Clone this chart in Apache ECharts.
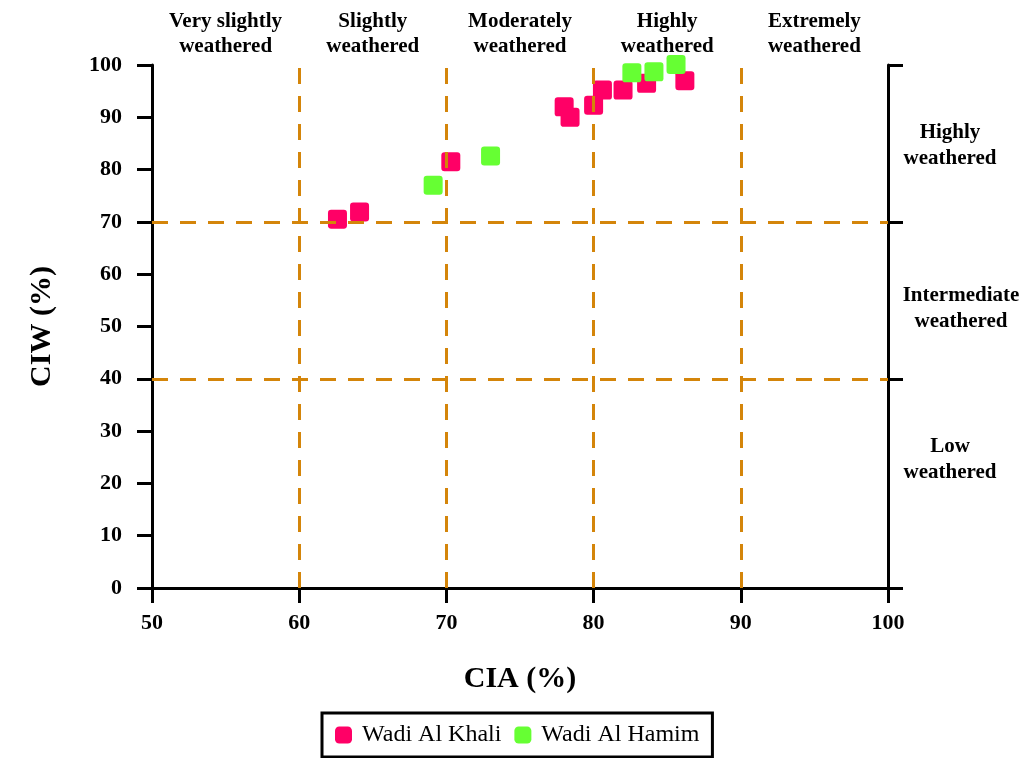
<!DOCTYPE html>
<html>
<head>
<meta charset="utf-8">
<script src="https://cdn.jsdelivr.net/npm/echarts@6/dist/echarts.min.js"></script>
<style>
html,body{margin:0;padding:0;background:#fff;}
#chart{width:1027px;height:758px;}
</style>
</head>
<body>
<div id="chart"></div>
<script>
// ---- data ----
const khaliCIA = [62.6, 64.1, 70.3, 78.0, 78.4, 80.0, 80.6, 82.0, 83.6, 86.2];
const khaliCIW = [70.5, 71.9, 81.5, 92.0, 90.0, 92.3, 95.2, 95.2, 96.5, 97.0];
const hamimCIA = [69.1, 73.0, 82.6, 84.1, 85.6];
const hamimCIW = [77.0, 82.6, 98.5, 98.7, 100.1];
const seriesNames = ['Wadi Al Khali', 'Wadi Al Hamim'];
const ciaZones = ['Very slightly\nweathered', 'Slightly\nweathered', 'Moderately\nweathered', 'Highly\nweathered', 'Extremely\nweathered'];
const ciaBounds = [60, 70, 80, 90];
const ciwBounds = [40, 70];
const ciwTicksRight = [0, 40, 70, 100];
const ciwZoneLabelPos = [24.5, 53.5, 84.5];
const ciwZones = ['Low\nweathered', 'Intermediate\nweathered', 'Highly\nweathered'];

const FONT = '"Liberation Serif", "Times New Roman", serif';
const zip = (a, b) => a.map((v, i) => [v, b[i]]);

const chart = echarts.init(document.getElementById('chart'), null, {renderer: 'canvas'});
const axisLine = {show: true, lineStyle: {color: '#000', width: 3}};
const tick = (extra) => Object.assign({show: true, inside: false, length: 15, lineStyle: {color: '#000', width: 3}}, extra || {});
const dashStyle = {color: '#d4850a', width: 3, type: [16, 12]};
const markerPath = 'path://M3,0 L15,0 Q18,0 18,3 L18,15 Q18,18 15,18 L3,18 Q0,18 0,15 L0,3 Q0,0 3,0 Z';
const rightText = {color: '#000', fontFamily: FONT, fontWeight: 'bold', fontSize: 21, lineHeight: 26};

chart.setOption({
  animation: false,
  backgroundColor: '#fff',
  grid: {left: 152, right: 139, top: 65, bottom: 170, containLabel: false},
  legend: {
    data: seriesNames,
    left: 322, top: 713,
    orient: 'horizontal',
    padding: [10, 13, 10, 13],
    borderColor: '#000', borderWidth: 3,
    itemWidth: 17, itemHeight: 17, itemGap: 13,
    icon: 'roundRect',
    textStyle: {fontFamily: FONT, fontSize: 24, color: '#000', padding: [0, 0, 0, 5]}
  },
  xAxis: [
    {
      type: 'value', position: 'bottom', min: 50, max: 100, interval: 10,
      axisLine: axisLine, axisTick: tick(), splitLine: {show: false},
      axisLabel: {color: '#000', fontFamily: FONT, fontWeight: 'bold', fontSize: 22, margin: 24},
      name: 'CIA (%)', nameLocation: 'middle', nameGap: 76,
      nameTextStyle: {color: '#000', fontFamily: FONT, fontWeight: 'bold', fontSize: 30}
    },
    {
      type: 'category', position: 'top', data: ciaZones, boundaryGap: true,
      axisLine: axisLine, axisTick: tick({alignWithLabel: false, interval: 0}), splitLine: {show: false},
      axisLabel: {interval: 0, color: '#000', fontFamily: FONT, fontWeight: 'bold', fontSize: 21, lineHeight: 25, margin: 6}
    }
  ],
  yAxis: [
    {
      type: 'value', position: 'left', min: 0, max: 100, interval: 10,
      axisLine: axisLine, axisTick: tick(), splitLine: {show: false},
      axisLabel: {color: '#000', fontFamily: FONT, fontWeight: 'bold', fontSize: 22, margin: 30},
      name: 'CIW (%)', nameLocation: 'middle', nameGap: 95,
      nameTextStyle: {color: '#000', fontFamily: FONT, fontWeight: 'bold', fontSize: 30}
    },
    {
      type: 'value', position: 'right', min: 0, max: 100,
      axisLine: axisLine,
      axisTick: tick({customValues: ciwTicksRight}),
      splitLine: {show: false},
      axisLabel: {
        customValues: ciwZoneLabelPos,
        formatter: (v) => {
          const i = ciwZoneLabelPos.indexOf(v);
          if (i < 0) return '';
          const tag = i === 1 ? 'm' : 'n';
          return ciwZones[i].split('\n').map(s => '{' + tag + '|' + s + '}').join('\n');
        },
        rich: {n: rightText, m: Object.assign({}, rightText, {padding: [0, 0, 0, 22]})},
        color: '#000', fontFamily: FONT, fontWeight: 'bold', fontSize: 21, lineHeight: 26,
        align: 'center', margin: 62
      }
    }
  ],
  series: [
    {
      name: 'guides', type: 'line', data: [], z: 1, silent: true,
      markLine: {
        silent: true, symbol: ['none', 'none'], label: {show: false},
        lineStyle: dashStyle,
        emphasis: {disabled: true},
        data: ciaBounds.map(v => ({xAxis: v})).concat(ciwBounds.map(v => ({yAxis: v})))
      }
    },
    {
      name: seriesNames[0], type: 'scatter', data: zip(khaliCIA, khaliCIW),
      symbol: markerPath, symbolSize: 19, clip: false, z: 3,
      itemStyle: {color: '#ff0066', opacity: 1}
    },
    {
      name: seriesNames[1], type: 'scatter', data: zip(hamimCIA, hamimCIW),
      symbol: markerPath, symbolSize: 19, clip: false, z: 4,
      itemStyle: {color: '#66ff33', opacity: 1}
    }
  ]
});
</script>
</body>
</html>
